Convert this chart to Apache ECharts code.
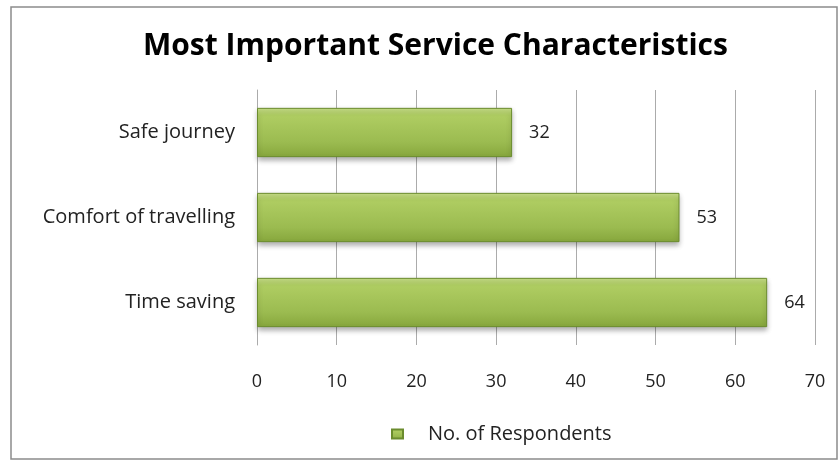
<!DOCTYPE html>
<html>
<head>
<meta charset="utf-8">
<script src="https://cdn.jsdelivr.net/npm/echarts@6/dist/echarts.min.js"></script>
<style>
  html, body { margin: 0; padding: 0; background: #fff; }
  #chart { width: 840px; height: 462px; }
</style>
</head>
<body>
<div id="chart"></div>
<script>
// data
const categories = ['Time saving', 'Comfort of travelling', 'Safe journey'];
const respondents = [64, 53, 32];
const seriesName = 'No. of Respondents';
const xTicks = [0, 10, 20, 30, 40, 50, 60, 70];

const chart = echarts.init(document.getElementById('chart'));

const barFill = new echarts.graphic.LinearGradient(0, 0, 0, 1, [
  { offset: 0, color: '#c9e08a' },
  { offset: 0.15, color: '#afcd62' },
  { offset: 0.7, color: '#9bbb50' },
  { offset: 1, color: '#86a63c' }
]);

const option = {
  backgroundColor: '#fff',
  textStyle: { fontFamily: 'Open Sans' },
  graphic: [{
    type: 'rect',
    shape: { x: 11, y: 7, width: 826, height: 452 },
    style: { fill: 'none', stroke: '#8c8c8c', lineWidth: 1.5 },
    silent: true
  }],
  title: {
    text: 'Most Important Service Characteristics',
    left: 138,
    top: 26,
    textStyle: { fontSize: 30, fontWeight: 'bold', color: '#000', fontFamily: 'Open Sans' }
  },
  legend: {
    bottom: 13,
    left: 386,
    itemWidth: 11,
    itemHeight: 9,
    icon: 'rect',
    textStyle: { fontSize: 20, color: '#222', padding: [0, 0, 0, 20] },
    data: [seriesName]
  },
  grid: { left: 257, right: 25, top: 90, bottom: 117 },
  xAxis: {
    type: 'value',
    min: xTicks[0],
    max: xTicks[xTicks.length - 1],
    interval: 10,
    axisLine: { show: false },
    axisTick: { show: false },
    axisLabel: { fontSize: 18, color: '#222', margin: 28 },
    splitLine: { show: true, lineStyle: { color: '#ababab', width: 1 } }
  },
  yAxis: {
    type: 'category',
    data: categories,
    axisLine: { show: true, lineStyle: { color: '#ababab' } },
    axisTick: { show: false },
    axisLabel: { fontSize: 20, color: '#222', margin: 22 }
  },
  series: [{
    name: seriesName,
    type: 'bar',
    data: respondents,
    barCategoryGap: '42%',
    itemStyle: {
      color: barFill,
      borderColor: '#6b8c2e',
      borderWidth: 1,
      shadowColor: 'rgba(0,0,0,0.3)',
      shadowBlur: 5,
      shadowOffsetY: 3
    },
    label: {
      show: true,
      position: 'right',
      distance: 17,
      fontSize: 18,
      color: '#222'
    }
  }]
};

chart.setOption(option);
</script>
</body>
</html>
